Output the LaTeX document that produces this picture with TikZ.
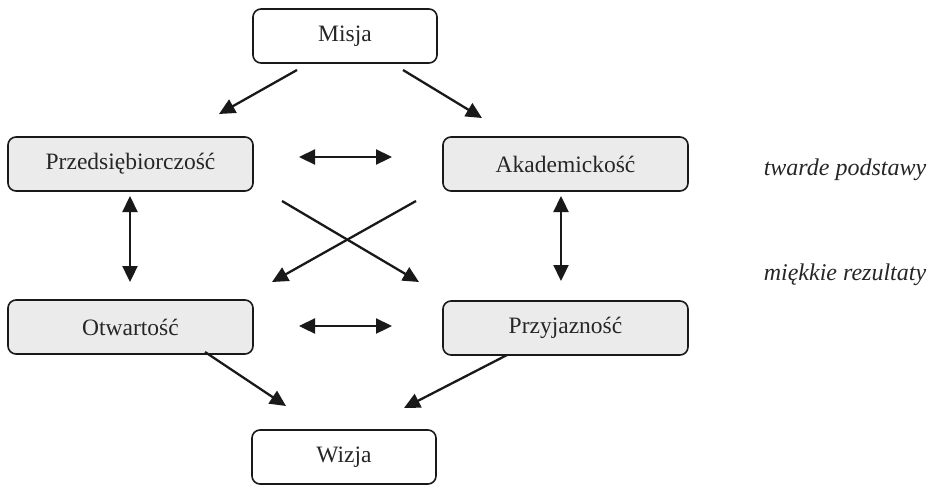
\documentclass[tikz,border=0pt]{standalone}
\usepackage{fontspec}
\setmainfont{Liberation Serif}
\usetikzlibrary{arrows.meta}
\begin{document}
\begin{tikzpicture}[x=1pt,y=-1pt,
  box/.style={draw=black!90,line width=1.6pt,rounded corners=8pt,minimum width=245pt,minimum height=54pt,inner sep=0pt,font=\fontsize{23.5}{26}\selectfont,text=black!85},
  gbox/.style={box,fill=black!8},
  wbox/.style={box,fill=white,minimum width=184pt},
  tip/.tip={Triangle[length=16pt,width=15pt]},
  arr/.style={line width=2.3pt,draw=black!90,-tip},
  darr/.style={line width=2.3pt,draw=black!90,tip-tip},
  lbl/.style={font=\fontsize{24}{26}\selectfont\itshape,text=black!85}]
\useasboundingbox (0,0) rectangle (934,485);
\node[wbox] (mis) at (345,36) {Misja};
\node[gbox] (prz) at (130.5,164) {Przedsiębiorczość};
\node[gbox] (aka) at (565.5,164) {Akademickość};
\node[gbox] (otw) at (130.5,327) {Otwartość};
\node[gbox] (pjz) at (565.5,328) {Przyjazność};
\node[wbox] (wiz) at (344,457) {Wizja};
\node[lbl] (twa) at (845,170) {twarde podstawy};
\node[lbl] (mie) at (845,275) {miękkie rezultaty};
% coordinates
\coordinate (a1) at (297,70); \coordinate (a2) at (219,114);
\coordinate (b1) at (403,70); \coordinate (b2) at (482,118);
\coordinate (c1) at (299,157); \coordinate (c2) at (392,157);
\coordinate (d1) at (130,196); \coordinate (d2) at (130,282);
\coordinate (e1) at (561,196); \coordinate (e2) at (561,281);
\coordinate (f1) at (282,201); \coordinate (f2) at (419,282);
\coordinate (g1) at (416,201); \coordinate (g2) at (272,282);
\coordinate (h1) at (299,326); \coordinate (h2) at (392,326);
\coordinate (i1) at (205,352); \coordinate (i2) at (286,406);
\coordinate (j1) at (507,355); \coordinate (j2) at (404,408);
\draw[arr] (a1) -- (a2);
\draw[arr] (b1) -- (b2);
\draw[darr] (c1) -- (c2);
\draw[darr] (d1) -- (d2);
\draw[darr] (e1) -- (e2);
\draw[arr] (f1) -- (f2);
\draw[arr] (g1) -- (g2);
\draw[darr] (h1) -- (h2);
\draw[arr] (i1) -- (i2);
\draw[arr] (j1) -- (j2);
\end{tikzpicture}
\end{document}
